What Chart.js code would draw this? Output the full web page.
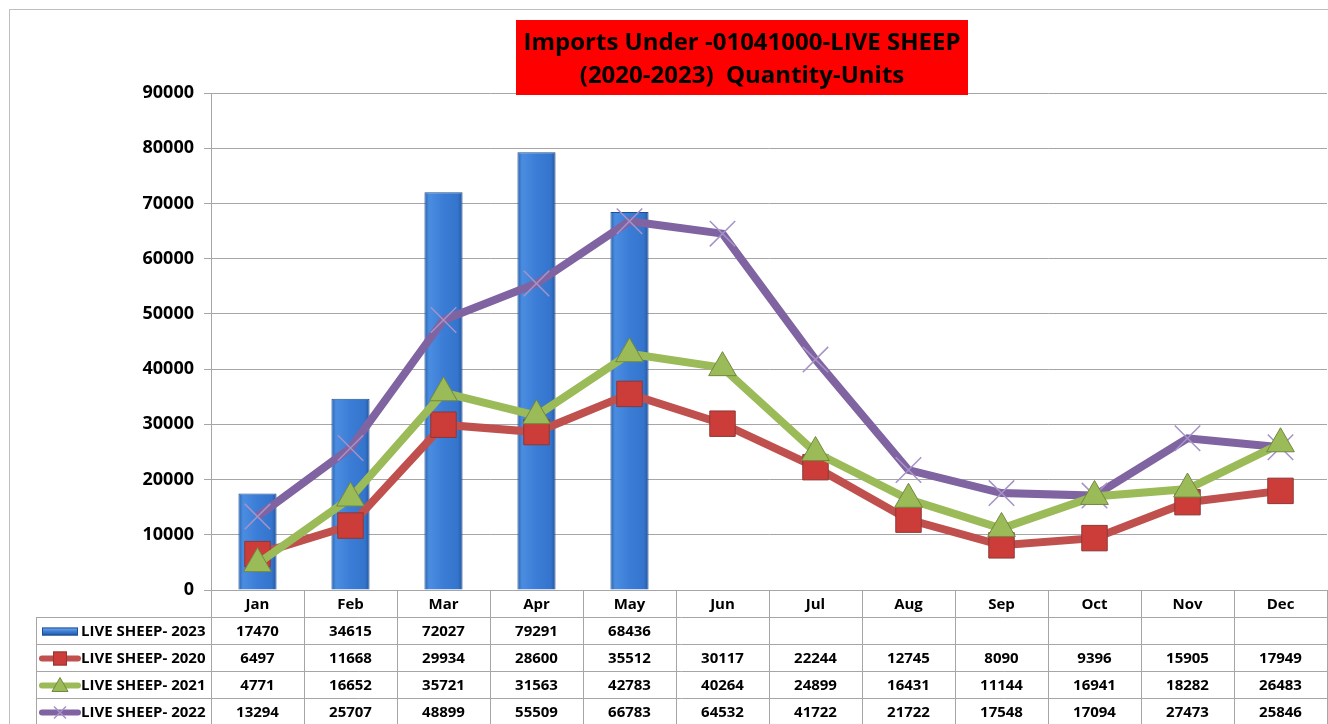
<!DOCTYPE html>
<html>
<head>
<meta charset="utf-8">
<script src="https://cdn.jsdelivr.net/npm/chart.js@4.4.0/dist/chart.umd.min.js"></script>
<style>
body { margin: 0; background: #fff; }
#wrap { width: 1328px; height: 724px; position: relative; }
</style>
</head>
<body>
<div id="wrap"><canvas id="sheepchart" width="1328" height="724"></canvas></div>
<script>
var months = ['Jan', 'Feb', 'Mar', 'Apr', 'May', 'Jun', 'Jul', 'Aug', 'Sep', 'Oct', 'Nov', 'Dec'];
var sheep2023 = [17470, 34615, 72027, 79291, 68436, null, null, null, null, null, null, null];
var sheep2020 = [6497, 11668, 29934, 28600, 35512, 30117, 22244, 12745, 8090, 9396, 15905, 17949];
var sheep2021 = [4771, 16652, 35721, 31563, 42783, 40264, 24899, 16431, 11144, 16941, 18282, 26483];
var sheep2022 = [13294, 25707, 48899, 55509, 66783, 64532, 41722, 21722, 17548, 17094, 27473, 25846];
var titleLines = ['Imports Under -01041000-LIVE SHEEP', '(2020-2023)  Quantity-Units'];

var FONT = "'Open Sans', 'Noto Sans', sans-serif";
var GRID = '#a6a6a6';
var BAR_PCT = 0.41;

// rows of the data table, in the order shown under the chart
var tableRows = [
    { name: 'LIVE SHEEP- 2023', data: sheep2023, key: 'bar', color: '#3b7dd8', edge: '#1f4f8f' },
    { name: 'LIVE SHEEP- 2020', data: sheep2020, key: 'rect', color: '#c0504d', edge: '#8c3836' },
    { name: 'LIVE SHEEP- 2021', data: sheep2021, key: 'triangle', color: '#9bbb59', edge: '#71893f' },
    { name: 'LIVE SHEEP- 2022', data: sheep2022, key: 'crossRot', color: '#8064a2', edge: '#a592c8' }
];

// bevelled look for each bar, built from the category scale
function barFill(c) {
    var chart = c.chart;
    var xs = chart.scales.x;
    if (!xs || !chart.chartArea) return '#3b7dd8';
    var cx = xs.getPixelForValue(c.dataIndex);
    var half = (chart.chartArea.right - chart.chartArea.left) / months.length * BAR_PCT / 2;
    var g = chart.ctx.createLinearGradient(cx - half, 0, cx + half, 0);
    g.addColorStop(0, '#2a62b0');
    g.addColorStop(0.12, '#4a8de0');
    g.addColorStop(0.5, '#3b7dd6');
    g.addColorStop(0.88, '#3474cc');
    g.addColorStop(1, '#23569c');
    return g;
}

var sheepTable = {
    id: 'sheepTable',
    afterDraw: function (chart) {
        var ctx = chart.ctx;
        var area = chart.chartArea;
        var colW = (area.right - area.left) / months.length;
        var headerH = 27, rowH = 27;
        var top = area.bottom;
        var bodyTop = top + headerH;
        var keyLeft = 36;

        ctx.save();
        // outer frame
        ctx.strokeStyle = '#bfbfbf';
        ctx.lineWidth = 1;
        ctx.strokeRect(9.5, 9.5, 1330, 730);

        // table grid
        ctx.strokeStyle = GRID;
        ctx.beginPath();
        for (var i = 0; i <= months.length; i++) {
            var gx = Math.round(area.left + i * colW) + 0.5;
            ctx.moveTo(gx, top);
            ctx.lineTo(gx, 724);
        }
        ctx.moveTo(keyLeft + 0.5, bodyTop);
        ctx.lineTo(keyLeft + 0.5, 724);
        for (var k = 0; k <= tableRows.length; k++) {
            var gy = Math.round(bodyTop + k * rowH) + 0.5;
            ctx.moveTo(keyLeft, gy);
            ctx.lineTo(area.right, gy);
        }
        ctx.stroke();

        // month header
        ctx.fillStyle = '#000';
        ctx.font = 'bold 15px ' + FONT;
        ctx.textAlign = 'center';
        ctx.textBaseline = 'middle';
        months.forEach(function (m, i) {
            ctx.fillText(m, area.left + (i + 0.5) * colW, top + headerH / 2 + 1);
        });

        // rows
        tableRows.forEach(function (row, r) {
            var cy = bodyTop + r * rowH + rowH / 2 + 1;
            row.data.forEach(function (v, i) {
                if (v === null) return;
                ctx.fillStyle = '#000';
                ctx.textAlign = 'center';
                ctx.fillText(String(v), area.left + (i + 0.5) * colW, cy);
            });
            ctx.fillStyle = '#000';
            ctx.textAlign = 'left';
            ctx.fillText(row.name, 81, cy);

            // legend key
            var kx = 42, kw = 36, mx = kx + kw / 2;
            if (row.key === 'bar') {
                var g = ctx.createLinearGradient(0, cy - 4, 0, cy + 4);
                g.addColorStop(0, '#7fb0ee');
                g.addColorStop(0.5, '#3b7dd8');
                g.addColorStop(1, '#24589e');
                ctx.fillStyle = g;
                ctx.fillRect(kx, cy - 4, kw, 8);
                ctx.strokeStyle = row.edge;
                ctx.strokeRect(kx + 0.5, cy - 3.5, kw - 1, 7);
            } else {
                ctx.strokeStyle = row.color;
                ctx.lineWidth = 6;
                ctx.lineCap = 'round';
                ctx.beginPath();
                ctx.moveTo(kx, cy);
                ctx.lineTo(kx + kw, cy);
                ctx.stroke();
                ctx.lineCap = 'butt';
                ctx.lineWidth = 1;
                if (row.key === 'rect') {
                    ctx.fillStyle = '#cc3d3a';
                    ctx.fillRect(mx - 7, cy - 7, 14, 14);
                    ctx.strokeStyle = row.edge;
                    ctx.strokeRect(mx - 6.5, cy - 6.5, 13, 13);
                } else if (row.key === 'triangle') {
                    ctx.fillStyle = row.color;
                    ctx.beginPath();
                    ctx.moveTo(mx, cy - 8);
                    ctx.lineTo(mx + 8, cy + 6);
                    ctx.lineTo(mx - 8, cy + 6);
                    ctx.closePath();
                    ctx.fill();
                    ctx.strokeStyle = row.edge;
                    ctx.stroke();
                } else {
                    ctx.strokeStyle = row.edge;
                    ctx.lineWidth = 1.5;
                    ctx.beginPath();
                    ctx.moveTo(mx - 6, cy - 6); ctx.lineTo(mx + 6, cy + 6);
                    ctx.moveTo(mx + 6, cy - 6); ctx.lineTo(mx - 6, cy + 6);
                    ctx.stroke();
                }
            }
        });

        // title box
        ctx.fillStyle = '#ff0000';
        ctx.fillRect(516, 20, 452, 75);
        ctx.fillStyle = '#000';
        ctx.textAlign = 'center';
        ctx.font = 'bold 22px ' + FONT;
        var tw = ctx.measureText(titleLines[0]).width;
        var size = 22 * 437 / tw;
        ctx.font = 'bold ' + size.toFixed(1) + 'px ' + FONT;
        ctx.fillText(titleLines[0], 742, 43);
        ctx.fillText(titleLines[1], 742, 76);
        ctx.restore();
    }
};

var chart1 = document.getElementById('sheepchart');
var myChart1 = new Chart(chart1, {
    type: 'bar',
    data: {
        labels: months,
        datasets: [{
            type: 'line',
            label: 'LIVE SHEEP- 2021',
            data: sheep2021,
            order: 1,
            borderColor: '#9bbb59',
            borderWidth: 8,
            tension: 0,
            pointStyle: 'triangle',
            pointRadius: 16,
            pointBackgroundColor: '#9bbb59',
            pointBorderColor: '#71893f',
            pointBorderWidth: 1
        }, {
            type: 'line',
            label: 'LIVE SHEEP- 2020',
            data: sheep2020,
            order: 2,
            borderColor: '#c0504d',
            borderWidth: 8,
            tension: 0,
            pointStyle: 'rect',
            pointRadius: 18,
            pointBackgroundColor: '#cc3d3a',
            pointBorderColor: '#8c3836',
            pointBorderWidth: 1
        }, {
            type: 'line',
            label: 'LIVE SHEEP- 2022',
            data: sheep2022,
            order: 3,
            borderColor: '#8064a2',
            borderWidth: 8,
            tension: 0,
            pointStyle: 'crossRot',
            pointRadius: 18,
            pointBorderColor: '#a592c8',
            pointBorderWidth: 1.5
        }, {
            label: 'LIVE SHEEP- 2023',
            data: sheep2023,
            order: 4,
            backgroundColor: barFill,
            borderColor: '#1f4f8f',
            borderWidth: 1,
            barPercentage: BAR_PCT,
            categoryPercentage: 1
        }]
    },
    options: {
        responsive: false,
        animation: false,
        layout: {
            autoPadding: false,
            padding: { top: 93, bottom: 134, left: 0, right: 1 }
        },
        plugins: {
            legend: { display: false },
            title: { display: false },
            tooltip: { enabled: false }
        },
        scales: {
            x: { display: false },
            y: {
                min: 0,
                max: 90000,
                ticks: {
                    stepSize: 10000,
                    color: '#000',
                    padding: 10,
                    font: { family: FONT, size: 18, weight: 'bold' },
                    callback: function (v) { return String(v); }
                },
                grid: { color: GRID, tickLength: 7 },
                border: { color: GRID },
                afterFit: function (scale) { scale.width = 211; }
            }
        }
    },
    plugins: [sheepTable]
});
</script>
</body>
</html>
